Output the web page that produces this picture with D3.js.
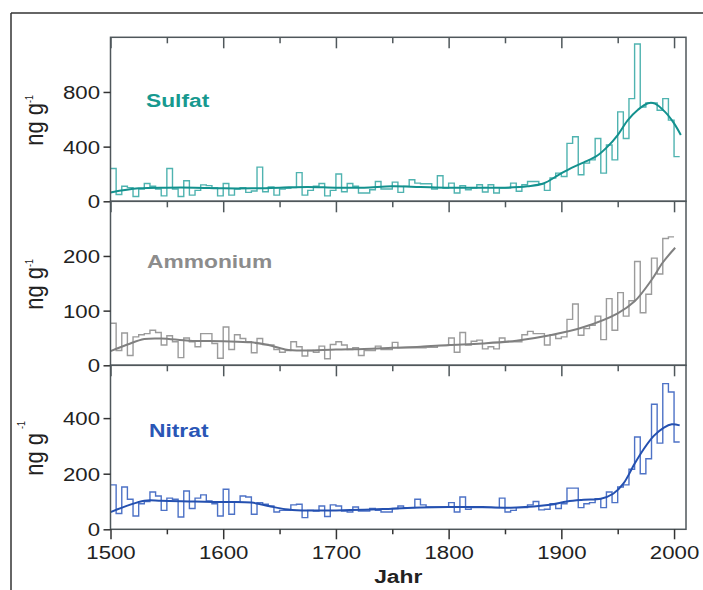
<!DOCTYPE html>
<html>
<head>
<meta charset="utf-8">
<script src="https://cdn.jsdelivr.net/npm/d3@7/dist/d3.min.js"></script>
<style>
  html, body { margin: 0; padding: 0; background: #fff; }
  svg { display: block; }
  text { font-family: "Liberation Sans", Arial, sans-serif; }
</style>
</head>
<body>
<svg id="chart" width="703" height="590"></svg>
<script>
// ---------------- DATA ----------------
const binStart = 1500;   // first bin (years)
const binWidth = 5;      // bin width (years)

const sulfatSteps = [
  240, 50, 110, 100, 35, 90, 130, 110, 90, 40,
  240, 90, 35, 150, 45, 80, 120, 115, 100, 40,
  130, 45, 90, 100, 65, 75, 250, 70, 105, 45,
  90, 95, 100, 210, 45, 80, 110, 130, 40, 80,
  200, 70, 130, 110,
  61, 61, 85, 145, 90, 90, 140, 65, 109, 158,
  133, 128, 128, 90, 187, 97, 133, 61, 114, 85,
  97, 121, 68, 121, 61, 97, 97, 133, 73, 121,
  145, 145, 128, 80, 170, 206, 182, 424, 472, 194,
  279, 303, 460, 206, 412, 303, 654, 460, 751, 1151,
  690, 720, 720, 666, 751, 594, 327
];
const ammoniumSteps = [
  77, 27, 59, 18, 52, 56, 58, 64, 60, 37,
  54, 43, 14, 50, 43, 34, 58, 58, 40, 13,
  70, 29, 56, 49, 43, 23, 49, 38, 37, 29,
  24, 27, 43, 34, 17, 27, 24, 35, 12, 38,
  43, 37, 29, 32,
  18, 27, 27, 35, 29, 29, 42, 32, 32, 32,
  32, 32, 33, 33, 36, 36, 50, 24, 60, 37,
  44, 46, 30, 34, 30, 50, 43, 43, 43, 56,
  62, 58, 58, 37, 56, 49, 52, 84, 112, 55,
  67, 73, 90, 47, 122, 64, 133, 90, 118, 190,
  96, 130, 196, 167, 232, 235
];
const nitratSteps = [
  160, 57, 152, 108, 48, 92, 100, 134, 120, 68,
  112, 108, 44, 138, 75, 112, 124, 102, 92, 48,
  144, 54, 98, 120, 116, 54, 96, 90, 84, 62,
  68, 68, 88, 90, 42, 68, 66, 84, 46, 88,
  84, 66, 62,
  80, 66, 66, 75, 68, 62, 62, 75, 84, 78,
  78, 108, 88, 80, 80, 80, 80, 96, 62, 116,
  72, 78, 78, 78, 78, 78, 112, 62, 68, 78,
  78, 88, 100, 70, 72, 92, 75, 92, 148, 148,
  78, 92, 96, 110, 78, 134, 96, 152, 160, 216,
  332, 200, 254, 450, 310, 524, 494, 314
];

const sulfatSmoothYears  = [1500,1525,1550,1575,1600,1625,1650,1675,1700,1725,1750,1775,1800,1825,1850,1870,1884,1898,1909,1920,1932,1941,1950,1959,1968,1977,1983,1992,2000,2006];
const sulfatSmoothValues = [65,95,100,100,95,95,100,105,100,100,110,105,100,100,100,110,130,195,245,285,335,400,485,594,670,718,715,654,570,485];

const ammoniumSmoothYears  = [1500,1515,1530,1545,1570,1600,1625,1640,1655,1670,1700,1725,1750,1775,1800,1830,1860,1890,1920,1950,1965,1980,1990,2001];
const ammoniumSmoothValues = [26,38,48,49,45,44,42,37,29,27,29,30,32,34,37,40,45,55,70,95,117,156,188,215];

const nitratSmoothYears  = [1500,1515,1530,1545,1575,1600,1625,1640,1655,1670,1700,1725,1750,1775,1800,1830,1860,1890,1905,1920,1935,1946,1955,1965,1973,1982,1991,1998,2005];
const nitratSmoothValues = [62,85,103,103,100,98,96,84,72,68,68,70,74,78,80,80,78,88,100,106,110,128,164,236,288,336,366,378,374];

const panelNames   = ["Sulfat", "Ammonium", "Nitrat"];
const yMaxValues   = [1200, 300, 590];
const yTickValues  = [[0, 400, 800], [0, 100, 200], [0, 200, 400]];
const xTickValues  = [1500, 1550, 1600, 1650, 1700, 1750, 1800, 1850, 1900, 1950, 2000];
const xTickLabels  = [1500, 1600, 1700, 1800, 1900, 2000];
const xAxisTitle   = "Jahr";
const yAxisTitle   = "ng g";
const yAxisSup     = "-1";

// ---------------- STYLE / LAYOUT ----------------
const stepColors   = ["#4fb3b0", "#9b9b9b", "#4d72c6"];
const smoothColors = ["#13918e", "#808080", "#2450b0"];
const labelColors  = ["#17998f", "#8c8c8c", "#2a56b6"];
const SX = 1.2; // horizontal stretch of the original figure text

const plotL = 110.5, plotR = 686, plotT = 37.3, ph = 164;

const svg = d3.select("#chart");

// outer frame lines
svg.append("line").attr("x1", 11).attr("y1", 13).attr("x2", 703).attr("y2", 13)
  .attr("stroke", "#333").attr("stroke-width", 1.5);
svg.append("line").attr("x1", 11).attr("y1", 13).attr("x2", 11).attr("y2", 590)
  .attr("stroke", "#333").attr("stroke-width", 1.5);

const x = d3.scaleLinear().domain([1500, 2010.6]).range([plotL, plotR]);

const panels = [
  { steps: sulfatSteps,   sy: sulfatSmoothYears,   sv: sulfatSmoothValues },
  { steps: ammoniumSteps, sy: ammoniumSmoothYears, sv: ammoniumSmoothValues },
  { steps: nitratSteps,   sy: nitratSmoothYears,   sv: nitratSmoothValues }
];

const supOffsets = [{dy: -8, dx: 0}, {dy: -8, dx: 0}, {dy: -15, dx: 4}];
const titlePos = [{x: 146, y: 107}, {x: 147, y: 268}, {x: 149, y: 437}];

panels.forEach((p, k) => {
  const y0 = plotT + k * ph, y1 = y0 + ph;
  const y = d3.scaleLinear().domain([0, yMaxValues[k]]).range([y1, y0]);
  const g = svg.append("g");

  // step series
  const stepPts = p.steps.map((v, i) => [binStart + i * binWidth, v]);
  stepPts.push([binStart + p.steps.length * binWidth, p.steps[p.steps.length - 1]]);
  g.append("path")
    .attr("d", d3.line().x(d => x(d[0])).y(d => y(d[1])).curve(d3.curveStepAfter)(stepPts))
    .attr("fill", "none").attr("stroke", stepColors[k]).attr("stroke-width", 1.4);

  // smooth
  const smPts = p.sy.map((yr, i) => [yr, p.sv[i]]);
  g.append("path")
    .attr("d", d3.line().x(d => x(d[0])).y(d => y(d[1])).curve(d3.curveCatmullRom.alpha(0.5))(smPts))
    .attr("fill", "none").attr("stroke", smoothColors[k]).attr("stroke-width", 2);

  // frame
  g.append("rect").attr("x", plotL).attr("y", y0).attr("width", plotR - plotL).attr("height", ph)
    .attr("fill", "none").attr("stroke", "#4f575b").attr("stroke-width", 1.5);

  // top ticks (inward)
  const topAx = g.append("g").attr("transform", `translate(0,${y0})`)
    .call(d3.axisBottom(x).tickValues(xTickValues).tickSize(11).tickFormat(""));
  topAx.select(".domain").remove();
  topAx.selectAll(".tick line").attr("stroke", "#4f575b").attr("stroke-width", 1.5)
    .attr("y2", d => d % 100 === 0 ? 11 : 6);

  // y axis
  const yAx = g.append("g").attr("transform", `translate(${plotL},0)`)
    .call(d3.axisLeft(y).tickValues(yTickValues[k]).tickSize(7).tickPadding(3.5));
  yAx.select(".domain").remove();
  yAx.selectAll(".tick line").attr("stroke", "#333").attr("stroke-width", 1.5);
  yAx.selectAll(".tick text")
    .attr("x", 0).attr("dy", "0.36em")
    .attr("transform", `translate(-10.5,0) scale(${SX},1)`)
    .attr("font-size", 18.5).attr("fill", "#222");

  // panel title
  svg.append("text")
    .attr("transform", `translate(${titlePos[k].x},${titlePos[k].y}) scale(${SX},1)`)
    .attr("font-size", 19).attr("font-weight", "bold").attr("fill", labelColors[k])
    .text(panelNames[k]);

  // y axis title (rotated)
  const yt = svg.append("text")
    .attr("transform", `translate(43,${(y0 + y1) / 2 + 1}) scale(${SX},1) rotate(-90)`)
    .attr("text-anchor", "middle").attr("font-size", 22).attr("fill", "#222");
  yt.append("tspan").text(yAxisTitle);
  yt.append("tspan").attr("font-size", 9).attr("dy", supOffsets[k].dy).attr("dx", supOffsets[k].dx).text(yAxisSup);

  // bottom axis on last panel
  if (k === panels.length - 1) {
    const bAx = svg.append("g").attr("transform", `translate(0,${y1})`)
      .call(d3.axisBottom(x).tickValues(xTickValues).tickSize(10)
        .tickFormat(d => xTickLabels.includes(d) ? String(d) : ""));
    bAx.select(".domain").remove();
    bAx.selectAll(".tick line").attr("stroke", "#333").attr("stroke-width", 1.5)
      .attr("y2", d => d % 100 === 0 ? 10 : 5);
    bAx.selectAll(".tick text")
      .attr("y", 0).attr("dy", 0)
      .attr("transform", `translate(0,29.7) scale(${SX},1)`)
      .attr("font-size", 18.5).attr("fill", "#222");

    svg.append("text")
      .attr("transform", `translate(${(plotL + plotR) / 2},583) scale(${SX},1)`)
      .attr("text-anchor", "middle").attr("font-size", 19).attr("font-weight", "bold")
      .attr("fill", "#222").text(xAxisTitle);
  }
});
</script>
</body>
</html>
